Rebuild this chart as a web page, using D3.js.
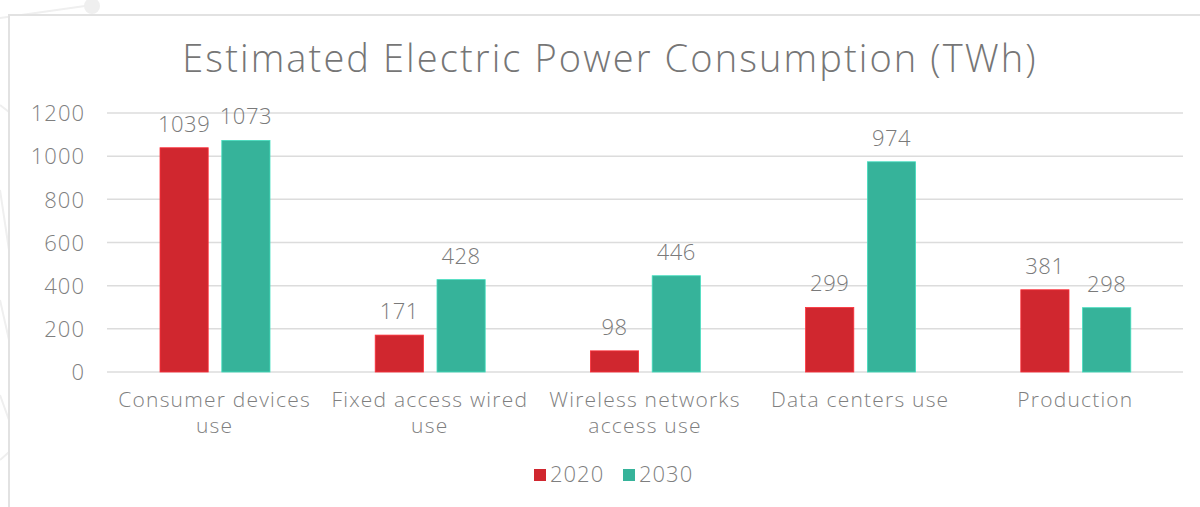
<!DOCTYPE html>
<html>
<head>
<meta charset="utf-8">
<script src="https://cdn.jsdelivr.net/npm/d3@7"></script>
<style>
  body { margin: 0; background: #fff; }
  svg { display: block; }
  svg text { font-family: "Open Sans", Lato, sans-serif; font-weight: 300; }
</style>
</head>
<body>
<div id="chart"></div>
<script>
const categories = [
  ['Consumer devices', 'use'],
  ['Fixed access wired', 'use'],
  ['Wireless networks', 'access use'],
  ['Data centers use'],
  ['Production']
];
const years = ['2020', '2030'];
const values2020 = [1039, 171, 98, 299, 381];
const values2030 = [1073, 428, 446, 974, 298];
const yTicks = [0, 200, 400, 600, 800, 1000, 1200];
const colors = ['#d0272f', '#36b39a'];

const width = 1200;
const height = 507;
const margin = { top: 113, right: 17, bottom: 135, left: 107 };

const svg = d3.select('#chart')
  .append('svg')
  .attr('width', width)
  .attr('height', height);

// faint background decoration
const deco = svg.append('g').attr('stroke', '#efefef').attr('fill', 'none').attr('stroke-width', 2);
deco.append('path').attr('d', 'M0,18 L92,5');
deco.append('path').attr('d', 'M0,105 L9,112 M0,190 L9,250 M0,300 L9,340 M0,395 L9,420 M0,460 L9,452');
svg.append('circle').attr('cx', 92).attr('cy', 6).attr('r', 8).attr('fill', '#efefef');

// chart frame
svg.append('rect')
  .attr('x', 9).attr('y', 15)
  .attr('width', 1200).attr('height', 600)
  .attr('fill', '#fff')
  .attr('stroke', '#e2e2e2')
  .attr('stroke-width', 2);

const plotW = width - margin.left - margin.right;
const plotH = height - margin.top - margin.bottom;
const g = svg.append('g').attr('transform', `translate(${margin.left},${margin.top})`);

const x0 = d3.scaleBand()
  .domain(d3.range(categories.length))
  .range([0, plotW]);

const x1 = d3.scaleBand()
  .domain(years)
  .range([53, 163])
  .paddingInner(0.22);

const y = d3.scaleLinear()
  .domain([0, 1200])
  .range([plotH, 0]);

// gridlines
g.append('g')
  .selectAll('line')
  .data(yTicks)
  .join('line')
  .attr('x1', 0).attr('x2', plotW)
  .attr('y1', d => y(d)).attr('y2', d => y(d))
  .attr('stroke', '#dcdcdc')
  .attr('stroke-width', 1.5);

// y axis labels
const yAxis = g.append('g')
  .call(d3.axisLeft(y).tickValues(yTicks).tickFormat(d3.format('d')).tickSize(0).tickPadding(22));
yAxis.select('.domain').remove();
yAxis.attr('font-family', null);
yAxis.selectAll('text')
  .attr('font-size', 22)
  .attr('letter-spacing', 1)
  .attr('fill', '#7f7f7f')
  .attr('dy', '0.35em');

const series = [values2020, values2030];

const groups = g.selectAll('.cat')
  .data(categories)
  .join('g')
  .attr('class', 'cat')
  .attr('transform', (d, i) => `translate(${x0(i)},0)`);

groups.each(function (d, i) {
  const grp = d3.select(this);
  years.forEach((yr, k) => {
    const v = series[k][i];
    grp.append('rect')
      .attr('x', x1(yr))
      .attr('y', y(v))
      .attr('width', x1.bandwidth())
      .attr('height', y(0) - y(v))
      .attr('fill', colors[k])
      .attr('stroke', d3.color(colors[k]).brighter(0.6))
      .attr('stroke-width', 0.8);
    grp.append('text')
      .attr('x', x1(yr) + x1.bandwidth() / 2)
      .attr('y', y(v) - 16)
      .attr('text-anchor', 'middle')
      .attr('font-size', 22)
      .attr('letter-spacing', 0.5)
      .attr('fill', '#7a7a7a')
      .text(v);
  });
  const lbl = grp.append('text')
    .attr('x', x0.bandwidth() / 2)
    .attr('y', plotH + 35)
    .attr('text-anchor', 'middle')
    .attr('font-size', 21)
    .attr('letter-spacing', 1.2)
    .attr('fill', '#7f7f7f');
  d.forEach((line, j) => {
    lbl.append('tspan')
      .attr('x', x0.bandwidth() / 2)
      .attr('dy', j === 0 ? 0 : 26)
      .text(line);
  });
});

// title
svg.append('text')
  .attr('x', 610)
  .attr('y', 72)
  .attr('text-anchor', 'middle')
  .attr('font-size', 38)
  .attr('letter-spacing', 2.1)
  .attr('fill', '#767676')
  .text('Estimated Electric Power Consumption (TWh)');

// legend
const legend = svg.append('g').attr('transform', 'translate(534,469)');
const legendX = [0, 89];
years.forEach((yr, k) => {
  legend.append('rect')
    .attr('x', legendX[k]).attr('y', 0)
    .attr('width', 12).attr('height', 12)
    .attr('fill', colors[k]);
  legend.append('text')
    .attr('x', legendX[k] + 16)
    .attr('y', 13)
    .attr('font-size', 22)
    .attr('letter-spacing', 1)
    .attr('fill', '#7f7f7f')
    .text(yr);
});
</script>
</body>
</html>
